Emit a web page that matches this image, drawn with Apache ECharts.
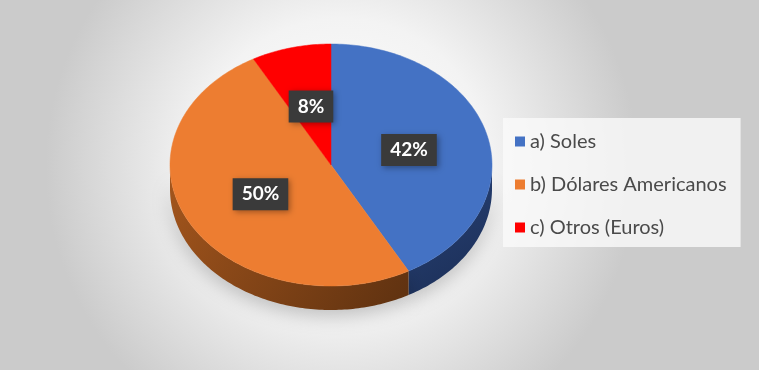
<!DOCTYPE html>
<html>
<head>
<meta charset="utf-8">
<script src="https://cdn.jsdelivr.net/npm/echarts@6/dist/echarts.min.js"></script>
<style>html,body{margin:0;padding:0;}#c{width:759px;height:370px;}</style>
</head>
<body>
<div id="c"></div>
<script>
const categories = ['a) Soles', 'b) Dólares Americanos', 'c) Otros (Euros)'];
const values = [42, 50, 8];
const labels = ['42%', '50%', '8%'];

const topColors = ['#4472C4', '#ED7D31', '#FF0000'];
const sideColors = [['#2a4478', '#1a2d55'], ['#a4561d', '#5e3110'], ['#a00000', '#600000']];
const DEPTH = 24;

const total = values.reduce((a, b) => a + b, 0);
const starts = [];
let acc = 0;
values.forEach(v => { starts.push(acc / total * 360); acc += v; });
const ends = values.map((v, i) => starts[i] + v / total * 360);

const rad = d => d * Math.PI / 180;

function makeRender(idx) {
  return function (params, api) {
    const a0 = api.value(0), a1 = api.value(1);
    const pt = (deg, r) => api.coord([r * Math.sin(rad(deg)), r * Math.cos(rad(deg))]);
    const children = [];
    const s0 = Math.max(a0, 90), s1 = Math.min(a1, 270);
    if (s1 > s0) {
      const upper = [];
      for (let d = s0; d < s1; d += 1) upper.push(pt(d, 1));
      upper.push(pt(s1, 1));
      const lower = upper.map(p => [p[0], p[1] + DEPTH]).reverse();
      children.push({
        type: 'polygon',
        shape: { points: upper.concat(lower) },
        style: {
          fill: new echarts.graphic.LinearGradient(0, 0, 1, 1, [
            { offset: 0, color: sideColors[idx][0] },
            { offset: 1, color: sideColors[idx][1] }
          ]),
          shadowBlur: 18, shadowColor: 'rgba(0,0,0,0.22)', shadowOffsetY: 6
        }
      });
    }
    const pts = [pt(0, 0)];
    for (let d = a0; d < a1; d += 1) pts.push(pt(d, 1));
    pts.push(pt(a1, 1));
    children.push({
      type: 'polygon',
      shape: { points: pts },
      style: { fill: topColors[idx], stroke: topColors[idx], lineWidth: 0.5 }
    });
    return { type: 'group', children: children };
  };
}

const sliceSeries = categories.map((name, i) => ({
  type: 'custom',
  name: name,
  coordinateSystem: 'cartesian2d',
  itemStyle: { color: topColors[i] },
  renderItem: makeRender(i),
  data: [[starts[i], ends[i]]],
  z: 2,
  silent: true
}));

const labelData = values.map((v, i) => {
  const mid = (starts[i] + ends[i]) / 2;
  const r = 0.5;
  return { value: [r * Math.sin(rad(mid)), r * Math.cos(rad(mid))], name: labels[i] };
});

const chart = echarts.init(document.getElementById('c'));
chart.setOption({
  backgroundColor: {
    type: 'radial', x: 0.45, y: 0.45, r: 0.8,
    colorStops: [{ offset: 0, color: '#ffffff' }, { offset: 0.5, color: '#f3f3f3' }, { offset: 1, color: '#cbcbcb' }]
  },
  animation: false,
  grid: { left: 170, top: 44, width: 322, height: 242 },
  xAxis: { type: 'value', min: -1, max: 1, show: false },
  yAxis: { type: 'value', min: -1, max: 1, show: false },
  legend: {
    orient: 'vertical',
    left: 503, top: 118,
    padding: [12, 14, 8, 12],
    backgroundColor: 'rgba(250,250,250,0.8)',
    icon: 'rect',
    itemWidth: 10, itemHeight: 10,
    itemGap: 20,
    textStyle: { fontFamily: 'Lato', fontSize: 20, color: '#4a4a4a', lineHeight: 23 },
    data: categories
  },
  series: sliceSeries.concat([{
    type: 'scatter',
    symbolSize: 0,
    z: 5,
    silent: true,
    itemStyle: { opacity: 1 },
    data: labelData,
    label: {
      show: true,
      position: 'inside',
      formatter: p => p.name,
      color: '#ffffff',
      fontFamily: 'Lato',
      fontWeight: 'bold',
      fontSize: 19,
      backgroundColor: '#3a3a3a',
      padding: [7, 9, 6, 9],
      shadowBlur: 6,
      shadowColor: 'rgba(0,0,0,0.35)',
      shadowOffsetX: 2, shadowOffsetY: 2
    }
  }])
});
</script>
</body>
</html>
